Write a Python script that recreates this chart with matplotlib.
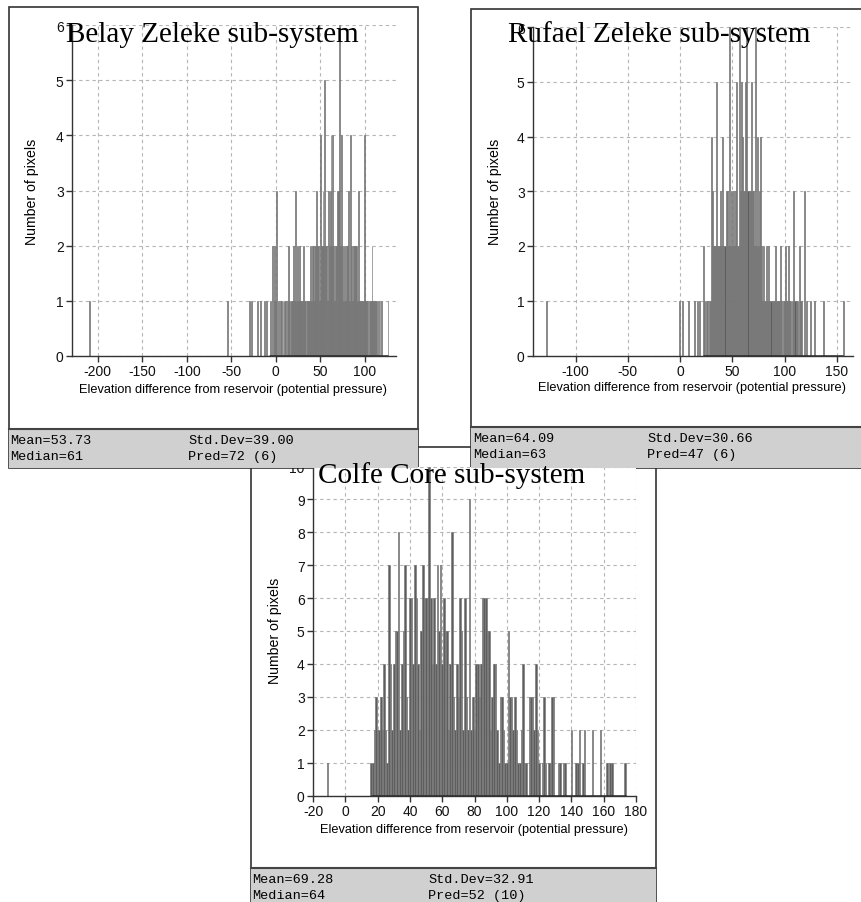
import numpy as np
import matplotlib
matplotlib.use('Agg')
import matplotlib.pyplot as plt
from matplotlib.patches import Rectangle

W, H = 862, 903

# pixel counts per 1 m elevation-difference bin, contiguous run + isolated values
belay_start = -8
belay_counts = [0, 0, 1, 0, 2, 0, 1, 2,
                1, 3, 0, 1, 0, 1, 1, 0, 1, 0,
                1, 1, 0, 1, 2, 1, 0, 1, 1, 1,
                2, 1, 3, 1, 2, 1, 1, 2, 1, 1,
                1, 2, 1, 1, 0, 1, 1, 1, 1, 2,
                1, 2, 2, 1, 2, 2, 3, 2, 2, 1,
                4, 2, 2, 3, 2, 5, 2, 2, 1, 3,
                2, 3, 4, 2, 4, 2, 1, 2, 2, 3,
                3, 3, 6, 2, 4, 2, 1, 2, 1, 2,
                1, 2, 3, 1, 4, 2, 1, 2, 2, 1,
                2, 2, 1, 3, 1, 1, 1, 1, 1, 1,
                4, 1, 1, 1, 0, 1, 1, 1, 2, 1,
                1, 1, 1, 1, 0, 1, 0, 1, 0, 1,
                0, 0, 0, 0, 0, 0, 1]
belay_outliers = [-209, -54, -30, -27, -21, -17, -13, -10]

rufael_start = 22
rufael_counts = [2, 1, 0, 1, 1, 0, 1, 1, 4, 3,
                 2, 2, 2, 5, 2, 2, 2, 3, 2, 4,
                 2, 2, 3, 3, 2, 6, 2, 3, 2, 3,
                 2, 3, 5, 2, 2, 6, 3, 5, 4, 3,
                 3, 5, 6, 3, 3, 3, 5, 3, 3, 2,
                 6, 2, 4, 2, 3, 4, 2, 1, 2, 1,
                 1, 2, 1, 2, 1, 1, 1, 1, 1, 2,
                 1, 1, 1, 1, 2, 1, 0, 1, 1, 2,
                 1, 1, 2, 1, 1, 0, 1, 3, 1, 1,
                 1, 0, 2, 1, 1, 0, 0, 3, 0, 1,
                 0, 0, 0, 1, 0, 0, 0, 1, 0, 0,
                 0, 0, 0, 0, 0, 1, 0, 0, 0, 0,
                 0, 0, 0, 0, 0, 0, 0, 0, 0, 0,
                 0, 0, 0, 0, 1]
rufael_outliers = [-128, -1, 2, 8, 14, 17, 19]

colfe_start = 16
colfe_counts = [1, 1, 2, 3, 2, 2, 3, 2, 4, 2,
                1, 7, 4, 2, 4, 5, 5, 8, 2, 4,
                5, 7, 3, 2, 6, 6, 4, 7, 6, 4,
                2, 5, 7, 6, 6, 6, 10, 6, 4, 6,
                4, 7, 5, 7, 4, 6, 5, 5, 2, 4,
                8, 3, 2, 4, 3, 6, 5, 2, 6, 3,
                2, 9, 2, 3, 2, 4, 4, 3, 4, 6,
                6, 6, 5, 5, 2, 3, 4, 4, 2, 1,
                3, 3, 2, 1, 1, 5, 3, 3, 2, 3,
                2, 1, 1, 2, 4, 1, 1, 0, 3, 3,
                3, 2, 4, 2, 1, 0, 1, 3, 1, 0,
                1, 1, 3, 3, 0, 0, 1, 1, 0, 1,
                1, 0, 0, 0, 2, 0, 0, 1, 1, 2,
                0, 1, 2, 0, 0, 0, 0, 2, 0, 0,
                0, 0, 2, 0, 0, 0, 1, 0, 1, 1,
                0, 0, 0, 0, 0, 0, 0, 1, 0]
colfe_outliers = [-11]

titles = ['Belay Zeleke sub-system', 'Rufael Zeleke sub-system',
          'Colfe Core sub-system']
stats = [('Mean=53.73', 'Std.Dev=39.00', 'Median=61', 'Pred=72 (6)'),
         ('Mean=64.09', 'Std.Dev=30.66', 'Median=63', 'Pred=47 (6)'),
         ('Mean=69.28', 'Std.Dev=32.91', 'Median=64', 'Pred=52 (10)')]

SANS = 'Liberation Sans'
MONO = 'Liberation Mono'
SERIF = 'Liberation Serif'
STRIP = '#d0d0d0'
plt.rcParams['axes.unicode_minus'] = False

fig = plt.figure(figsize=(W / 100, H / 100), dpi=100)


def frac(x, y):
    return x / W, 1 - y / H


def rect(x0, y0, x1, y1, z, fc='white', ec='none', lw=1.0):
    fig.add_artist(Rectangle(frac(x0, y1), (x1 - x0) / W, (y1 - y0) / H,
                             transform=fig.transFigure, facecolor=fc,
                             edgecolor=ec, lw=lw, zorder=z))


def window(x0, y0, x1, y1, strip_y, stat, text_x):
    # white client area with frame, grey status strip at the bottom
    rect(x0, y0, x1, y1, -2, ec='#333333', lw=1.2)
    rect(x0, strip_y, x1, y1, 2, fc=STRIP)
    fig.add_artist(plt.Line2D([x0 / W, x1 / W], [1 - strip_y / H] * 2,
                              transform=fig.transFigure, color='#444444',
                              lw=1.5, zorder=2.1))
    r1 = strip_y + 11
    r2 = strip_y + 27
    for txt, tx, ty in [(stat[0], text_x[0], r1), (stat[1], text_x[1], r1),
                        (stat[2], text_x[0], r2), (stat[3], text_x[1], r2)]:
        fig.text(tx / W, 1 - ty / H, txt, family=MONO, fontsize=9.7,
                 ha='left', va='center', zorder=3)


def panel(box, xlim, xticks, ymax, start, counts, outliers,
          title, title_xy, ylab_xy, xlab_xy):
    x0, y0, x1, y1 = box
    ax = fig.add_axes([x0 / W, 1 - y1 / H, (x1 - x0) / W, (y1 - y0) / H])
    ax.set_zorder(0)
    bins = np.arange(start, start + len(counts))
    counts = np.asarray(counts)
    xs = np.concatenate([bins[counts > 0], outliers])
    hs = np.concatenate([counts[counts > 0], np.ones(len(outliers))])
    ax.bar(xs, hs, width=1.0, facecolor='#5e5e5e', edgecolor='#7c7c7c',
           lw=0.5)
    ax.hlines(0, bins[0], bins[-1], color='#2a2a2a', lw=1.8, zorder=3)
    ax.set_xlim(*xlim)
    ax.set_ylim(0, ymax)
    ax.set_xticks(xticks)
    ax.set_yticks(range(ymax + 1))
    ax.grid(True, color='#b5b5b5', ls=(0, (3, 3)), lw=0.8)
    ax.set_axisbelow(True)
    for s in ('top', 'right'):
        ax.spines[s].set_visible(False)
    for s in ('left', 'bottom'):
        ax.spines[s].set_color('#333333')
        ax.spines[s].set_linewidth(1.0)
    ax.tick_params(length=4, width=1, color='#333333', pad=2,
                   labelsize=10, labelcolor='#111111')
    for lab in ax.get_xticklabels() + ax.get_yticklabels():
        lab.set_family(SANS)
    fig.text(*frac(*title_xy), title, family=SERIF, fontsize=21,
             ha='left', va='baseline', zorder=4)
    fig.text(*frac(*ylab_xy), 'Number of pixels', family=SANS, fontsize=10.2,
             rotation=90, ha='center', va='center', zorder=4)
    fig.text(*frac(*xlab_xy),
             'Elevation difference from reservoir (potential pressure)',
             family=SANS, fontsize=9.2, ha='center', va='center', zorder=4)
    return ax


# Colfe Core window sits behind the two upper status strips
window(251, 448, 656, 903, 869, stats[2], (252, 428))
window(9, 8, 418, 469, 430, stats[0], (10, 188))
window(471, 10, 870, 469, 428, stats[1], (473, 647))

panel((72, 26, 396, 357), (-229, 135), range(-200, 101, 50), 6,
      belay_start, belay_counts, belay_outliers,
      titles[0], (66, 42), (32, 192), (233, 390))
panel((533, 28, 853, 356.5), (-140.8, 165.5), range(-100, 151, 50), 6,
      rufael_start, rufael_counts, rufael_outliers,
      titles[1], (508, 42), (495, 192), (692, 388))
panel((313, 467.5, 636, 796.5), (-20, 180), range(-20, 181, 20), 10,
      colfe_start, colfe_counts, colfe_outliers,
      titles[2], (318, 483), (275, 631), (474, 830))

plt.savefig('out.png', dpi=100)
